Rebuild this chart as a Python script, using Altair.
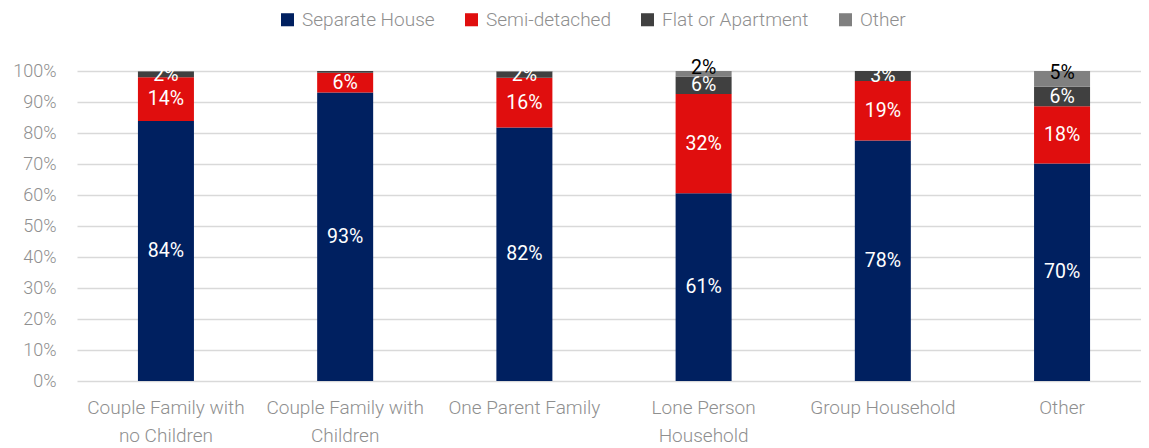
import altair as alt
import pandas as pd

categories = ["Couple Family with no Children", "Couple Family with Children",
              "One Parent Family", "Lone Person Household", "Group Household", "Other"]
category_lines = [["Couple Family with", "no Children"], ["Couple Family with", "Children"],
                  ["One Parent Family"], ["Lone Person", "Household"], ["Group Household"], ["Other"]]
series = ["Separate House", "Semi-detached", "Flat or Apartment", "Other"]
colors = ["#002060", "#E00E0E", "#404040", "#808080"]

separate_house = [83.9, 93.1, 81.8, 60.6, 77.6, 70.2]
semi_detached = [14.1, 6.3, 16.0, 32.0, 19.2, 18.4]
flat_apartment = [1.7, 0.6, 2.0, 5.6, 3.2, 6.3]
other = [0.3, 0.0, 0.2, 1.8, 0.0, 5.1]

y_ticks = [0, 10, 20, 30, 40, 50, 60, 70, 80, 90, 100]

rows = []
for si, (name, vals) in enumerate(zip(series, [separate_house, semi_detached, flat_apartment, other])):
    for c, v in zip(categories, vals):
        rows.append({"category": c, "series": name, "value": v, "order": si})
df = pd.DataFrame(rows)

label_expr = " : ".join(
    f"datum.value == '{c}' ? {lines!r}" for c, lines in zip(categories, category_lines)
) + " : datum.value"

FONT = "Roboto"
GREY_TXT = "#8f8f8f"

base = alt.Chart(df).transform_stack(
    stack="value", groupby=["category"], sort=[alt.SortField("order", order="ascending")],
    as_=["y0", "y1"]
).transform_calculate(
    mid="(datum.y0 + datum.y1) / 2",
    label="round(datum.value) + '%'"
)

x_scale = alt.Scale(range=[0, 1074], paddingInner=0.6875, paddingOuter=0.34)
x_axis = alt.Axis(labelAngle=0, labelExpr=label_expr, labelFont=FONT, labelFontSize=19,
                  labelFontWeight=300, labelColor=GREY_TXT, labelLineHeight=28,
                  labelPadding=26, labelBaseline="middle", labelOverlap=False,
                  domain=False, ticks=False, grid=False)

y_scale = alt.Scale(domain=[0, 100], nice=False)
y_axis = alt.Axis(values=y_ticks, labelExpr="datum.value + '%'", labelFont=FONT,
                  labelFontSize=18, labelFontWeight=300, labelColor=GREY_TXT,
                  labelPadding=21, labelOverlap=False, domain=False, ticks=False,
                  grid=True, gridColor="#d9d9d9", gridWidth=1.5)


def x_enc():
    return alt.X("category:N", sort=categories, title=None, scale=x_scale, axis=x_axis)


bars = base.mark_bar().encode(
    x=x_enc(),
    y=alt.Y("y0:Q", title=None, scale=y_scale, axis=y_axis),
    y2="y1:Q",
    color=alt.Color("series:N", scale=alt.Scale(domain=series, range=colors), title=None,
                    legend=alt.Legend(orient="none", legendX=201, legendY=-61, direction="horizontal",
                                      symbolType="square", symbolSize=170, symbolStrokeWidth=0,
                                      labelFont=FONT, labelFontSize=19, labelFontWeight=300,
                                      labelColor=GREY_TXT, columnPadding=27, labelOffset=5)),
    order=alt.Order("order:Q")
)

white_labels = base.transform_filter(
    "datum.value >= 1.5 && datum.series != 'Other'"
).mark_text(color="white", font=FONT, fontSize=19.5, baseline="middle").encode(
    x=x_enc(),
    y=alt.Y("mid:Q", title=None, scale=y_scale, axis=y_axis),
    text="label:N"
)

black_labels = base.transform_filter(
    "datum.value >= 1.5 && datum.series == 'Other'"
).mark_text(color="black", font=FONT, fontSize=19.5, baseline="middle", dy=-6).encode(
    x=x_enc(),
    y=alt.Y("mid:Q", title=None, scale=y_scale, axis=y_axis),
    text="label:N"
)

chart = alt.layer(bars, white_labels, black_labels).properties(
    width=1064, height=310,
    autosize=alt.AutoSizeParams(type="none"),
    padding={"left": 69, "top": 63, "right": 0, "bottom": 66}
).configure_view(stroke=None)

chart.save("out.html", embed_options={"renderer": "svg", "actions": False})
